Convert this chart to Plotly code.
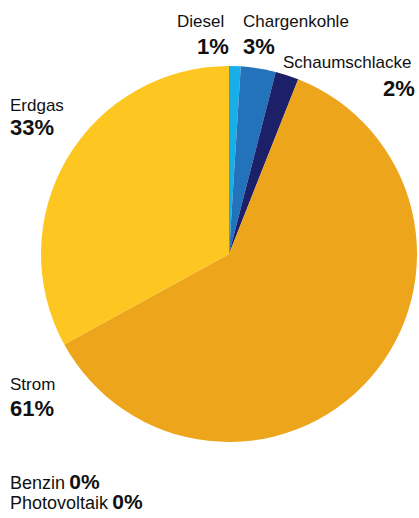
import plotly.graph_objects as go

# Energieträger-Anteile (in %)
labels = ["Diesel", "Chargenkohle", "Schaumschlacke", "Strom", "Erdgas", "Benzin", "Photovoltaik"]
values = [1, 3, 2, 61, 33, 0, 0]
colors = ["#1AAEE8", "#2272BC", "#1B2068", "#EDA51C", "#FDC621", "#999999", "#BBBBBB"]

W, H = 419, 518

fig = go.Figure(go.Pie(
    labels=labels,
    values=values,
    sort=False,
    direction="clockwise",
    rotation=0,
    textinfo="none",
    hoverinfo="label+percent",
    marker=dict(colors=colors, line=dict(width=0)),
    domain=dict(x=[41 / W, 417 / W], y=[(H - 442) / H, (H - 66) / H]),
    showlegend=False,
))

FONT = "Liberation Sans, Arial, Helvetica, sans-serif"
NAME_SIZE = 17
PCT_SIZE = 22

# Label placement: (name, name_x_px, pct_x_px, name_y_px, pct_y_px, xanchor)
label_pos = [
    ("Diesel", 226, 231, 21, 46, "right"),
    ("Chargenkohle", 241, 241, 21, 46, "left"),
    ("Schaumschlacke", 414, 417, 63, 88, "right"),
    ("Erdgas", 8, 8, 105, 128, "left"),
    ("Strom", 8, 8, 384, 408, "left"),
]

value_of = dict(zip(labels, values))
annotations = []
for name, xn, xp, yn, yp, xa in label_pos:
    annotations.append(dict(
        x=xn / W, y=1 - yn / H, xref="paper", yref="paper",
        text=name, showarrow=False, xanchor=xa, yanchor="middle",
        font=dict(family=FONT, size=NAME_SIZE, color="#111111"),
    ))
    annotations.append(dict(
        x=xp / W, y=1 - yp / H, xref="paper", yref="paper",
        text=f"<b>{value_of[name]}%</b>", showarrow=False, xanchor=xa, yanchor="middle",
        font=dict(family=FONT, size=PCT_SIZE, color="#111111"),
    ))

# Zero-share carriers listed below the chart as one compact block
zero_lines = [
    f"<span style='font-size:18px'>{n}</span> "
    f"<span style='font-size:21px'><b>{value_of[n]}%</b></span>"
    for n in ["Benzin", "Photovoltaik"]
]
annotations.append(dict(
    x=8 / W, y=1 - 491 / H, xref="paper", yref="paper",
    text="<br>".join(zero_lines), align="left",
    showarrow=False, xanchor="left", yanchor="middle",
    font=dict(family=FONT, size=15, color="#111111"),
))

fig.update_layout(
    width=W, height=H,
    margin=dict(l=0, r=0, t=0, b=0),
    paper_bgcolor="white",
    plot_bgcolor="white",
    annotations=annotations,
)

fig.write_html("out.html")
